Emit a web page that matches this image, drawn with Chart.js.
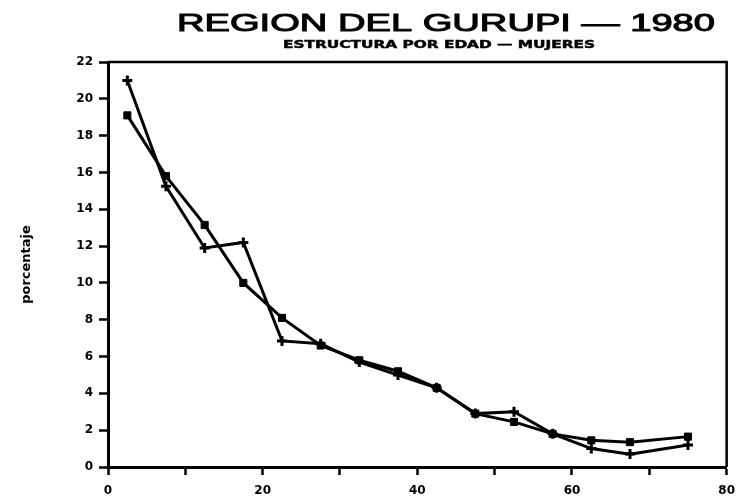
<!DOCTYPE html>
<html>
<head>
<meta charset="utf-8">
<script src="https://cdn.jsdelivr.net/npm/chart.js@4.4.0/dist/chart.umd.min.js"></script>
<style>
  html, body { margin: 0; padding: 0; background: #fff; }
  #wrap { position: relative; width: 744px; height: 498px; }
</style>
</head>
<body>
<div id="wrap"><canvas id="chart"></canvas></div>
<script>
// grupos de edad (punto medio del intervalo)
const edades = [2.5, 7.5, 12.5, 17.5, 22.5, 27.5, 32.5, 37.5, 42.5, 47.5, 52.5, 57.5, 62.5, 67.5, 75];
// serie con cuadrados
const serieCuadros = [19.1, 15.8, 13.15, 10.0, 8.1, 6.6, 5.8, 5.2, 4.3, 2.9, 2.45, 1.8, 1.45, 1.35, 1.65];
// serie con cruces
const serieCruces = [21.0, 15.25, 11.9, 12.2, 6.85, 6.7, 5.7, 5.0, 4.3, 2.9, 3.0, 1.8, 1.0, 0.7, 1.2];
const ticksY = [0, 2, 4, 6, 8, 10, 12, 14, 16, 18, 20, 22];
const ticksX = [0, 20, 40, 60, 80];
const titulo = "REGION DEL GURUPI \u2014 1980";
const subtitulo = "ESTRUCTURA POR EDAD \u2014 MUJERES";
const etiquetaY = "porcentaje";

const toPoints = (ys) => edades.map((x, i) => ({ x: x, y: ys[i] }));

// texto estirado horizontalmente hasta un ancho dado
function drawStretched(ctx, text, font, cx, y, width, stroke) {
    ctx.save();
    ctx.font = font;
    const w = ctx.measureText(text).width;
    ctx.translate(cx, y);
    ctx.scale(width / w, 1);
    ctx.textAlign = "center";
    ctx.textBaseline = "alphabetic";
    ctx.fillStyle = "#000";
    ctx.fillText(text, 0, 0);
    if (stroke) {
        ctx.lineWidth = stroke;
        ctx.strokeStyle = "#000";
        ctx.strokeText(text, 0, 0);
    }
    ctx.restore();
}

const marco = {
    id: "marco",
    afterDraw(chart) {
        const { ctx, chartArea: a } = chart;
        ctx.save();
        ctx.strokeStyle = "#000";
        ctx.lineWidth = 2.5;
        ctx.beginPath();
        ctx.moveTo(a.left, a.top);
        ctx.lineTo(a.right, a.top);
        ctx.lineTo(a.right, a.bottom);
        ctx.stroke();
        ctx.restore();
        drawStretched(ctx, titulo, "24px 'Liberation Sans'", 446, 31, 538, 1.0);
        drawStretched(ctx, subtitulo, "bold 11px 'DejaVu Sans'", 439, 48, 312, 0.5);
    }
};

new Chart(document.getElementById("chart"), {
    type: "line",
    data: {
        datasets: [
            {
                label: "cuadros",
                data: toPoints(serieCuadros),
                borderColor: "#000",
                backgroundColor: "#000",
                borderWidth: 3,
                pointStyle: "rect",
                pointRadius: 5,
                pointBorderWidth: 1,
                tension: 0
            },
            {
                label: "cruces",
                data: toPoints(serieCruces),
                borderColor: "#000",
                backgroundColor: "#000",
                borderWidth: 3,
                pointStyle: "cross",
                pointRadius: 5,
                pointBorderWidth: 3,
                tension: 0
            }
        ]
    },
    options: {
        responsive: true,
        maintainAspectRatio: false,
        animation: false,
        layout: { padding: { top: 62, right: 17, left: 0, bottom: 0 } },
        plugins: {
            legend: { display: false },
            tooltip: { enabled: false }
        },
        scales: {
            x: {
                type: "linear",
                min: 0,
                max: 80,
                afterFit: (s) => { s.height = 31; },
                ticks: {
                    stepSize: 10,
                    autoSkip: false,
                    maxRotation: 0,
                    padding: 9,
                    color: "#000",
                    font: { family: "'DejaVu Sans'", weight: "bold", size: 12 },
                    callback: (v) => ticksX.includes(v) ? v : ""
                },
                grid: { drawOnChartArea: false, drawTicks: true, tickLength: 8, tickWidth: 2.5, color: "#000" },
                border: { display: true, width: 3, color: "#000" }
            },
            y: {
                min: 0,
                max: 22,
                afterFit: (s) => { s.width = 108; },
                afterBuildTicks: (s) => { s.ticks = ticksY.map((v) => ({ value: v })); },
                ticks: {
                    padding: 6,
                    color: "#000",
                    font: { family: "'DejaVu Sans'", weight: "bold", size: 12 }
                },
                title: {
                    display: true,
                    text: etiquetaY,
                    color: "#000",
                    padding: { top: 19, bottom: 0 },
                    font: { family: "'DejaVu Sans'", weight: "bold", size: 13 }
                },
                grid: { drawOnChartArea: false, drawTicks: true, tickLength: 9, tickWidth: 2.5, color: "#000" },
                border: { display: true, width: 3, color: "#000" }
            }
        }
    },
    plugins: [marco]
});
</script>
</body>
</html>
